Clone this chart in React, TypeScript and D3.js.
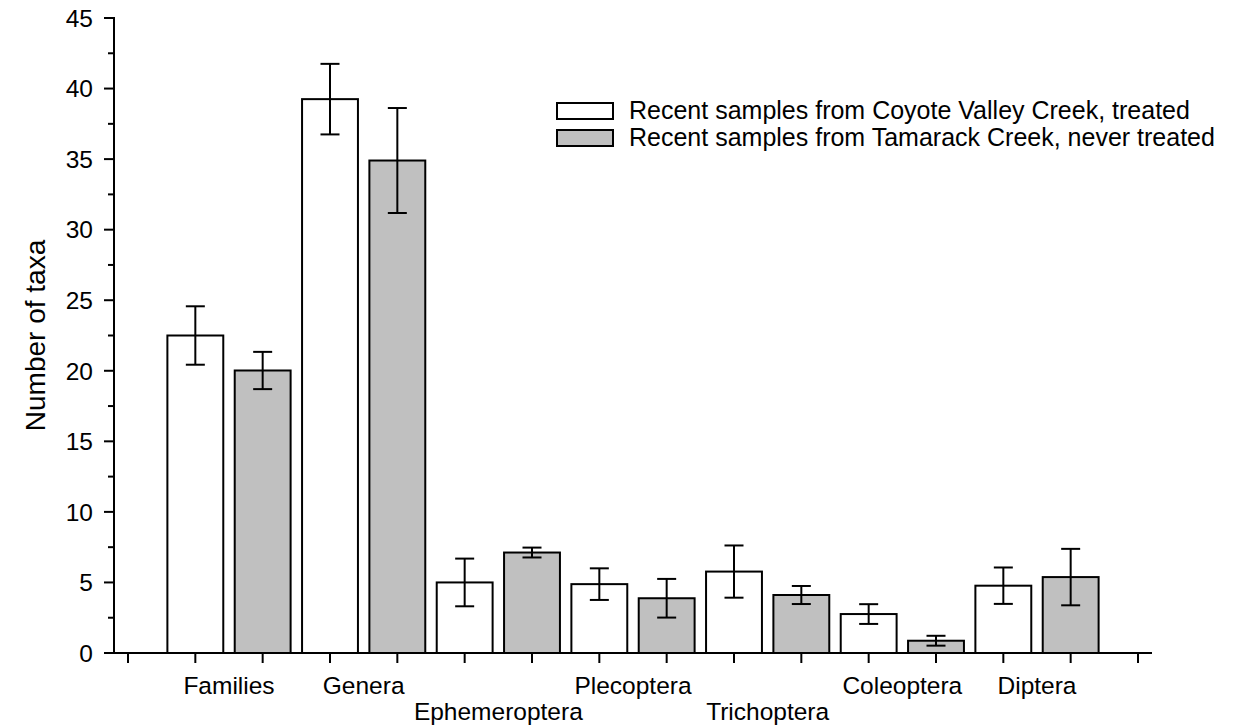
import React from "react";
import * as d3 from "d3";

const categories = ["Families", "Genera", "Ephemeroptera", "Plecoptera", "Trichoptera", "Coleoptera", "Diptera"];
const labelRow = [0, 0, 1, 0, 1, 0, 0];
const treatedMean = [22.5, 39.25, 5.0, 4.88, 5.77, 2.76, 4.77];
const treatedErr = [2.07, 2.5, 1.69, 1.12, 1.85, 0.7, 1.29];
const neverMean = [20.02, 34.9, 7.12, 3.88, 4.11, 0.87, 5.38];
const neverErr = [1.32, 3.72, 0.35, 1.37, 0.64, 0.35, 2.0];
const seriesNames = [
  "Recent samples from Coyote Valley Creek, treated",
  "Recent samples from Tamarack Creek, never treated",
];
const yTicks = [0, 5, 10, 15, 20, 25, 30, 35, 40, 45];
const yMinorTicks = [2.5, 7.5, 12.5, 17.5, 22.5, 27.5, 32.5, 37.5, 42.5];

const FONT = "'Liberation Sans', Arial, sans-serif";
const FS = 24.5;

export default function App() {
  const W = 1235, H = 728;
  const x = d3.scaleLinear().domain([0, 15]).range([128, 1138]);
  const y = d3.scaleLinear().domain([0, 45]).range([653, 18]);
  const axisX = 114;
  const axisEnd = 1152;
  const step = x(1) - x(0);
  const barW = step * 0.83;
  const cap = 9.5;
  const xTickIdx = d3.range(0, 16);

  const series = [
    { mean: treatedMean, err: treatedErr, fill: "#ffffff", off: 1 },
    { mean: neverMean, err: neverErr, fill: "#c0c0c0", off: 2 },
  ];

  return (
    <svg width={W} height={H} style={{ position: "absolute", left: 0, top: 0, background: "#fff" }} fontFamily={FONT}>
      {/* bars */}
      {series.map((s, si) =>
        categories.map((c, i) => {
          const cx = x(i * 2 + s.off);
          const v = s.mean[i];
          const e = s.err[i];
          return (
            <g key={`${si}-${i}`}>
              <rect x={cx - barW / 2} y={y(v)} width={barW} height={y(0) - y(v)} fill={s.fill} stroke="#000" strokeWidth={2} />
              <line x1={cx} x2={cx} y1={y(v + e)} y2={y(v - e)} stroke="#000" strokeWidth={2} />
              <line x1={cx - cap} x2={cx + cap} y1={y(v + e)} y2={y(v + e)} stroke="#000" strokeWidth={2} />
              <line x1={cx - cap} x2={cx + cap} y1={y(v - e)} y2={y(v - e)} stroke="#000" strokeWidth={2} />
            </g>
          );
        })
      )}
      {/* y axis */}
      <line x1={axisX} x2={axisX} y1={y(45) - 1} y2={y(0)} stroke="#000" strokeWidth={2} />
      {yTicks.map((t) => (
        <g key={`yt${t}`}>
          <line x1={axisX - 10} x2={axisX} y1={y(t)} y2={y(t)} stroke="#000" strokeWidth={2} />
          <text x={axisX - 21} y={y(t)} dy="0.36em" textAnchor="end" fontSize={FS} fill="#000">{t}</text>
        </g>
      ))}
      {yMinorTicks.map((t) => (
        <line key={`ym${t}`} x1={axisX - 6} x2={axisX} y1={y(t)} y2={y(t)} stroke="#000" strokeWidth={2} />
      ))}
      <text transform={`translate(45,${(y(0) + y(45)) / 2}) rotate(-90)`} textAnchor="middle" fontSize={28} fill="#000">Number of taxa</text>
      {/* x axis */}
      <line x1={axisX - 10} x2={axisEnd} y1={y(0)} y2={y(0)} stroke="#000" strokeWidth={2} />
      {xTickIdx.map((t) => (
        <line key={`xt${t}`} x1={x(t)} x2={x(t)} y1={y(0)} y2={y(0) + 10} stroke="#000" strokeWidth={2} />
      ))}
      {categories.map((c, i) => (
        <text key={`cl${c}`} x={x(i * 2 + 1.5)} y={labelRow[i] === 0 ? 694 : 720} textAnchor="middle" fontSize={FS} fill="#000">{c}</text>
      ))}
      {/* legend */}
      {seriesNames.map((n, i) => (
        <g key={`lg${i}`}>
          <rect x={557} y={103 + i * 27} width={56} height={16} fill={series[i].fill} stroke="#000" strokeWidth={2} />
          <text x={629} y={119 + i * 27} fontSize={25} fill="#000">{n}</text>
        </g>
      ))}
    </svg>
  );
}
